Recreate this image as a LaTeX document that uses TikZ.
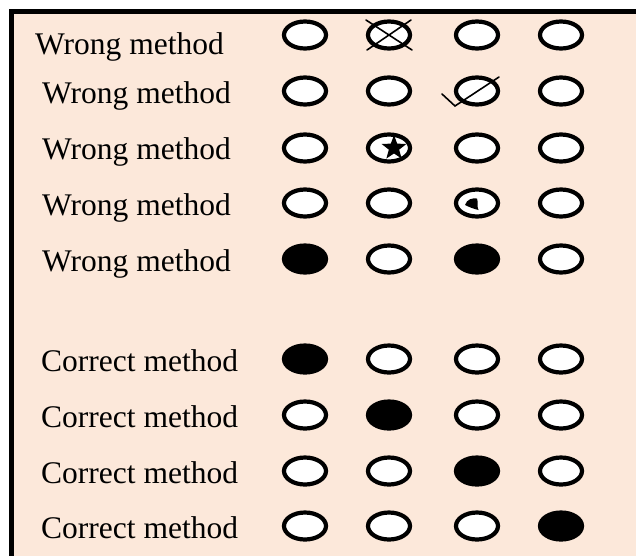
\documentclass[tikz,border=0pt]{standalone}
\usepackage{fontspec}
\setmainfont{Liberation Serif}
\usetikzlibrary{shapes.geometric,calc}
\definecolor{peach}{RGB}{252,232,218}
\tikzset{
  lbl/.style={anchor=base west,inner sep=0pt,font=\fontsize{31.5}{36}\selectfont},
  ell/.style={ellipse,draw=black,line width=4.2pt,fill=white,minimum width=42pt,minimum height=27pt,inner sep=0pt},
  ellf/.style={ell,fill=black},
  markline/.style={line width=1.6pt,line cap=round},
}
\begin{document}
\begin{tikzpicture}[x=1pt,y=-1pt]
\useasboundingbox (0,0) rectangle (636,555);
\clip (0,0) rectangle (636,555);
\fill[peach] (11.7,11.8) rectangle (645,560);
\draw[line width=4.8pt] (11.7,560) -- (11.7,11.8) -- (645,11.8);
% labels
\node[lbl] (t1) at (35,54) {Wrong method};
\node[lbl] (t2) at (42,103) {Wrong method};
\node[lbl] (t3) at (42,159) {Wrong method};
\node[lbl] (t4) at (42,215) {Wrong method};
\node[lbl] (t5) at (42,271) {Wrong method};
\node[lbl] (t6) at (41,371) {Correct method};
\node[lbl] (t7) at (41,427) {Correct method};
\node[lbl] (t8) at (41,483) {Correct method};
\node[lbl] (t9) at (41,538) {Correct method};
% row 1
\node[ell] (e11) at (305,35) {};
\node[ell] (e12) at (389,35) {};
\node[ell] (e13) at (477,35) {};
\node[ell] (e14) at (561,35) {};
\draw[markline] ($(e12)+(-23,-15)$) -- ($(e12)+(23,15)$);
\draw[markline] ($(e12)+(22,-15)$) -- ($(e12)+(-22,15)$);
% row 2
\node[ell] (e21) at (305,91) {};
\node[ell] (e22) at (389,91) {};
\node[ell] (e23) at (477,91) {};
\node[ell] (e24) at (561,91) {};
\draw[markline] ($(e23)+(-35,3)$) -- ($(e23)+(-22,15)$) -- ($(e23)+(22,-14)$);
% row 3
\node[ell] (e31) at (305,148) {};
\node[ell] (e32) at (389,148) {};
\node[ell] (e33) at (477,148) {};
\node[ell] (e34) at (561,148) {};
\node[star,star points=5,star point ratio=2.4,fill=black,minimum size=26pt,inner sep=0pt] (s32) at (394,148) {};
% row 4
\node[ell] (e41) at (305,203) {};
\node[ell] (e42) at (389,203) {};
\node[ell] (e43) at (477,203) {};
\node[ell] (e44) at (561,203) {};
\fill[black] ($(e43)+(-12,2)$) .. controls ($(e43)+(-10,-4)$) and ($(e43)+(-5,-5)$) .. ($(e43)+(0,-4.5)$)
  .. controls ($(e43)+(1.5,-1)$) and ($(e43)+(-0.5,3)$) .. ($(e43)+(1.5,7)$)
  .. controls ($(e43)+(-3,6)$) and ($(e43)+(-8,4)$) .. cycle;
% row 5
\node[ellf] (e51) at (305,259) {};
\node[ell] (e52) at (389,259) {};
\node[ellf] (e53) at (477,259) {};
\node[ell] (e54) at (561,259) {};
% row 6
\node[ellf] (e61) at (305,359) {};
\node[ell] (e62) at (389,359) {};
\node[ell] (e63) at (477,359) {};
\node[ell] (e64) at (561,359) {};
% row 7
\node[ell] (e71) at (305,415) {};
\node[ellf] (e72) at (389,415) {};
\node[ell] (e73) at (477,415) {};
\node[ell] (e74) at (561,415) {};
% row 8
\node[ell] (e81) at (305,471) {};
\node[ell] (e82) at (389,471) {};
\node[ellf] (e83) at (477,471) {};
\node[ell] (e84) at (561,471) {};
% row 9
\node[ell] (e91) at (305,526) {};
\node[ell] (e92) at (389,526) {};
\node[ell] (e93) at (477,526) {};
\node[ellf] (e94) at (561,526) {};
\end{tikzpicture}
\end{document}
